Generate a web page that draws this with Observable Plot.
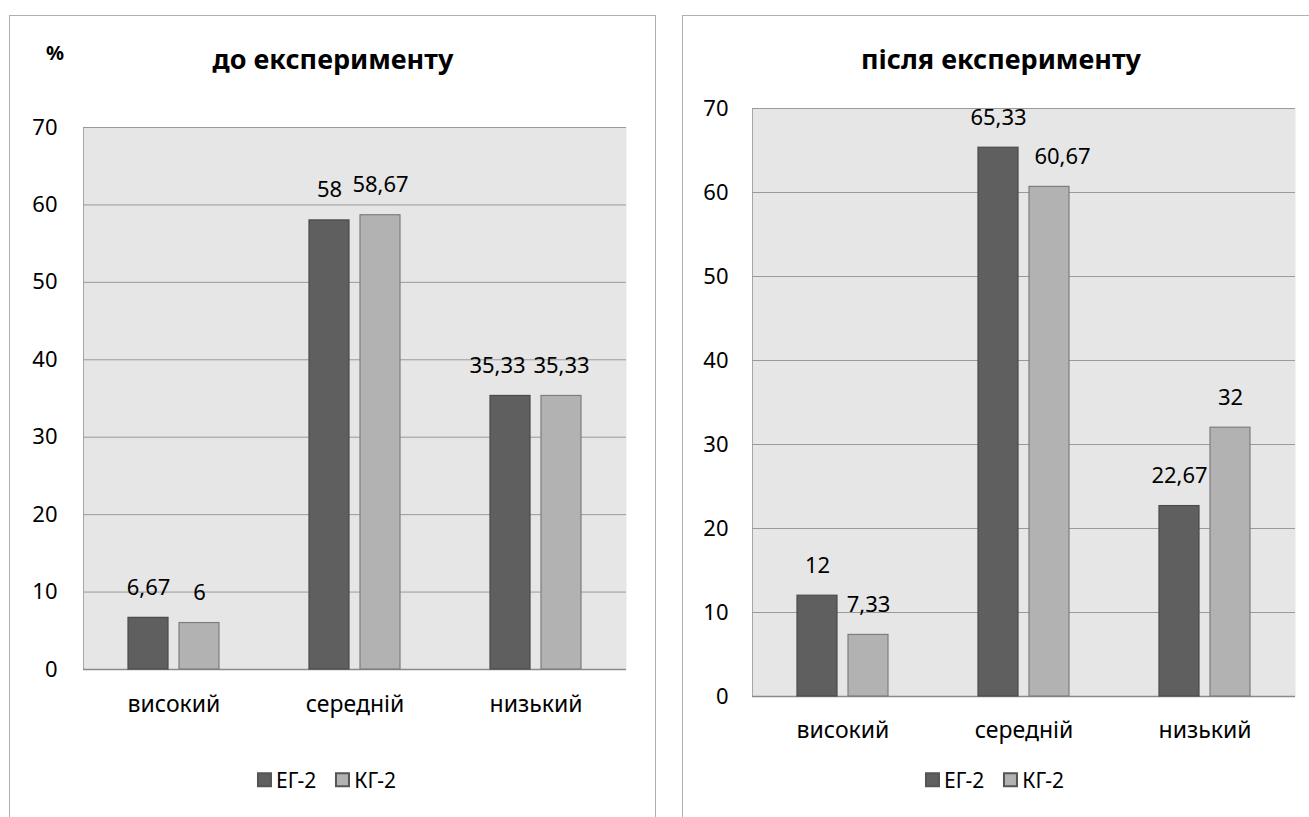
<!DOCTYPE html>
<html lang="uk">
<head>
<meta charset="utf-8">
<script src="https://cdn.jsdelivr.net/npm/d3@7"></script>
<script src="https://cdn.jsdelivr.net/npm/@observablehq/plot@0.6"></script>
<style>
  html, body { margin: 0; padding: 0; background: #fff; overflow: hidden; }
  body { width: 1309px; height: 817px; position: relative; font-family: "Noto Sans", sans-serif; color: #000; }
  .panel { position: absolute; top: 15px; height: 900px; border: 1px solid #b0b0b0; box-sizing: border-box; background: #fff; }
  .title { position: absolute; font-weight: bold; font-size: 27px; white-space: nowrap; transform: translate(-50%, -50%); }
  .unit { position: absolute; font-weight: bold; font-size: 20px; transform: translate(-50%, -50%); }
  .chart { position: absolute; }
  .legend { position: absolute; transform: translate(-50%, -50%); }
  #legendLeft svg, #legendRight svg { margin-right: 5px !important; }
  #legendLeft span, #legendRight span { margin-right: 0 !important; }
  #legendLeft span + span, #legendRight span + span { margin-left: 20px !important; }
  #legendLeft svg rect, #legendRight svg rect { stroke: #555; stroke-width: 2px; }
</style>
</head>
<body>
<div class="panel" style="left:9px; width:647px;"></div>
<div class="panel" style="left:682px; width:700px;"></div>
<div class="unit" style="left:55px; top:52px;">%</div>
<div class="title" style="left:333px; top:58px;">до експерименту</div>
<div class="title" style="left:1001px; top:58px;">після експерименту</div>
<div id="left" class="chart" style="left:9px; top:100px;"></div>
<div id="right" class="chart" style="left:682px; top:100px;"></div>
<div id="legendLeft" class="legend" style="left:327px; top:785px;"></div>
<div id="legendRight" class="legend" style="left:995px; top:785px;"></div>
<script>
// Levels and groups
const categories = ["високий", "середній", "низький"];
const seriesNames = ["ЕГ-2", "КГ-2"];

// Percentages before the experiment
const beforeEG = [6.67, 58, 35.33];
const beforeKG = [6, 58.67, 35.33];

// Percentages after the experiment
const afterEG = [12, 65.33, 22.67];
const afterKG = [7.33, 60.67, 32];

const yTicks = [0, 10, 20, 30, 40, 50, 60, 70];

const seriesFill = ["#5f5f5f", "#b2b2b2"];
const seriesStroke = ["#4a4a4a", "#7d7d7d"];

const FONT = '"Noto Sans", sans-serif';
const decimalComma = v => String(v).replace(".", ",");

function rowsFor(eg, kg) {
  const rows = [];
  categories.forEach((c, i) => {
    rows.push({category: c, series: seriesNames[0], value: eg[i]});
    rows.push({category: c, series: seriesNames[1], value: kg[i]});
  });
  return rows;
}

// Horizontal nudge for value labels that would otherwise collide
function labelShift(nudges) {
  return d => nudges[d.category + "|" + d.series] || 0;
}

function groupedBars(rows, {width, height, marginTop, marginBottom, marginLeft, marginRight, yPad, xPad, nudges}) {
  const shift = labelShift(nudges);
  const labelMarks = [...new Set(rows.map(shift))].map(dx => Plot.text(rows.filter(d => shift(d) === dx), {
    fx: "category", x: "series", y: "value",
    text: d => decimalComma(d.value), dx, dy: -30, fontSize: 22, fill: "#000"
  }));
  return Plot.plot({
    width, height, marginTop, marginBottom, marginLeft, marginRight,
    style: {fontFamily: FONT, fontSize: "22px", color: "#000", background: "transparent", overflow: "visible"},
    fx: {domain: categories, padding: 0},
    x: {domain: seriesNames, paddingInner: 0.21, paddingOuter: 0.856, axis: null},
    y: {domain: [0, 70]},
    marks: [
      // one continuous plot-area background and left edge across all category facets
      Plot.frame({fill: "#e6e6e6", facet: "super"}),
      Plot.frame({anchor: "left", stroke: "#a6a6a6", facet: "super"}),
      Plot.ruleY(yTicks.filter(t => t > 0), {stroke: "#9a9a9a", strokeWidth: 1}),
      Plot.ruleY([0], {stroke: "#8a8a8a", strokeWidth: 1.5}),
      Plot.axisY({ticks: yTicks, tickSize: 0, tickPadding: yPad, label: null, fontSize: 22}),
      Plot.axisFx({anchor: "bottom", tickSize: 0, tickPadding: xPad, label: null, fontSize: 23}),
      ...seriesNames.map((s, i) => Plot.barY(rows.filter(d => d.series === s), {
        fx: "category", x: "series", y: "value",
        fill: seriesFill[i], stroke: seriesStroke[i], strokeWidth: 1.2
      })),
      ...labelMarks
    ]
  });
}

document.getElementById("left").append(groupedBars(rowsFor(beforeEG, beforeKG), {
  width: 647, height: 630, marginTop: 27, marginBottom: 61, marginLeft: 73, marginRight: 29,
  yPad: 26, xPad: 26, nudges: {"низький|ЕГ-2": -13}
}));
document.getElementById("right").append(groupedBars(rowsFor(afterEG, afterKG), {
  width: 627, height: 660, marginTop: 8, marginBottom: 64, marginLeft: 69, marginRight: 13,
  yPad: 24, xPad: 25, nudges: {"середній|КГ-2": 13}
}));

for (const id of ["legendLeft", "legendRight"]) {
  document.getElementById(id).append(Plot.legend({
    color: {type: "ordinal", domain: seriesNames, range: seriesFill},
    legend: "swatches",
    swatchSize: 13,
    style: {fontFamily: FONT, fontSize: "21px", color: "#000"}
  }));
}
</script>
</body>
</html>
